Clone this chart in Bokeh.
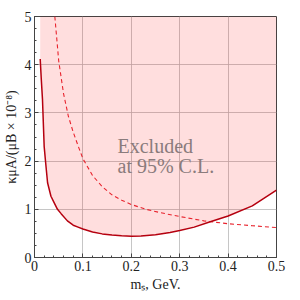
from bokeh.plotting import figure
from bokeh.models import SingleIntervalTicker, Range1d
from bokeh.core.properties import value
from bokeh.embed import file_html
from bokeh.resources import INLINE

# solid limit curve (upper edge of excluded region boundary)
solid_x = [0.0118, 0.014, 0.0165, 0.02, 0.023, 0.027, 0.034, 0.04, 0.0475, 0.055,
           0.068, 0.08, 0.09, 0.1, 0.12, 0.14, 0.16, 0.18, 0.2, 0.22, 0.25, 0.28,
           0.3, 0.33, 0.36, 0.4, 0.45, 0.5]
solid_y = [4.12, 3.7, 3.28, 2.3, 1.97, 1.55, 1.27, 1.15, 1.0, 0.91,
           0.76, 0.67, 0.63, 0.59, 0.53, 0.49, 0.465, 0.45, 0.44, 0.445, 0.47, 0.52,
           0.56, 0.63, 0.73, 0.86, 1.07, 1.40]
# dashed curve
dash_x = [0.042, 0.05, 0.06, 0.07, 0.08, 0.09, 0.1, 0.12, 0.14, 0.16, 0.18, 0.2,
          0.23, 0.26, 0.3, 0.35, 0.4, 0.45, 0.5]
dash_y = [5.0, 4.08, 3.4, 2.93, 2.6, 2.32, 2.05, 1.7, 1.47, 1.3, 1.19, 1.1,
          1.0, 0.93, 0.85, 0.76, 0.70, 0.66, 0.62]
y_top = 5.0

SERIF = "Liberation Serif"

p = figure(frame_width=242, frame_height=241, output_backend="svg", toolbar_location=None,
           x_range=Range1d(0, 0.5), y_range=Range1d(0, 5),
           min_border_left=31, min_border_top=16, min_border_right=10, min_border_bottom=32)

p.varea(x=solid_x, y1=solid_y, y2=[y_top] * len(solid_x), fill_color="#ff0000", fill_alpha=0.13)
p.line(dash_x, dash_y, line_color="#e8232d", line_width=1.1, line_dash="4 3")
p.line(solid_x, solid_y, line_color="#b5000f", line_width=1.5)

p.text(x=[0.1715, 0.1715], y=[2.32, 1.89], text=["Excluded", "at 95% C.L."],
       text_font=value(SERIF), text_font_size="20px", text_color="#8a7b7c",
       text_baseline="alphabetic", text_align="left")

p.xaxis.ticker = SingleIntervalTicker(interval=0.1, num_minor_ticks=5)
p.yaxis.ticker = SingleIntervalTicker(interval=1, num_minor_ticks=4)
p.xaxis.axis_label = "mₛ, GeV."
p.yaxis.axis_label = "κμA/(μB × 10⁻⁸)"

for ax in (p.xaxis, p.yaxis):
    ax.major_tick_in = 4
    ax.major_tick_out = 0
    ax.minor_tick_in = 2
    ax.minor_tick_out = 0
    ax.axis_line_color = "#444444"
    ax.major_tick_line_color = "#444444"
    ax.minor_tick_line_color = "#444444"
    ax.major_label_text_font = SERIF
    ax.major_label_text_font_size = "14px"
    ax.major_label_text_color = "#222222"
    ax.axis_label_text_font = SERIF
    ax.axis_label_text_font_size = "14px"
    ax.axis_label_text_font_style = "normal"
    ax.axis_label_text_color = "#222222"
    ax.major_label_standoff = 3
    ax.axis_label_standoff = 3

p.yaxis.major_label_orientation = "horizontal"

p.grid.grid_line_color = "#b8b8b8"
p.grid.grid_line_alpha = 0.8
p.outline_line_color = "#444444"
p.outline_line_width = 1
p.background_fill_color = "white"
p.border_fill_color = "white"

open("out.html", "w").write(file_html(p, INLINE))
